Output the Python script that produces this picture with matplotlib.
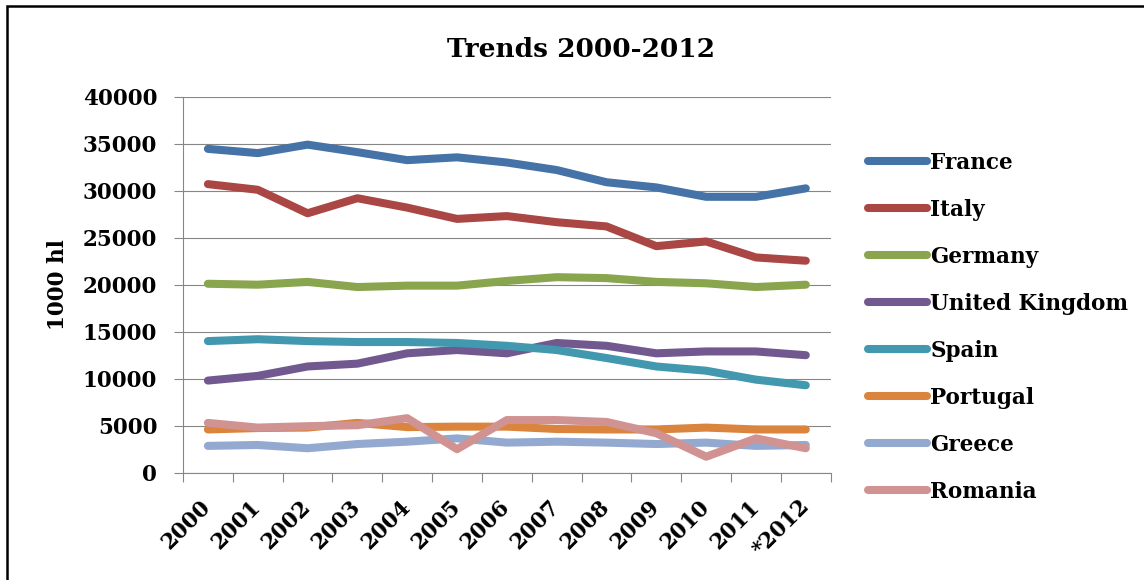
import matplotlib
matplotlib.use("Agg")
import matplotlib.pyplot as plt
from matplotlib.patches import Rectangle
from matplotlib.ticker import FixedLocator, NullFormatter, FixedFormatter

years = ["2000", "2001", "2002", "2003", "2004", "2005", "2006", "2007",
         "2008", "2009", "2010", "2011", "*2012"]

france = [34450, 34000, 34900, 34100, 33250, 33550, 33000, 32200, 30900, 30350, 29350, 29350, 30250]
italy = [30700, 30100, 27600, 29200, 28200, 27000, 27300, 26650, 26200, 24100, 24600, 22900, 22550]
germany = [20100, 20000, 20300, 19750, 19900, 19900, 20400, 20800, 20700, 20300, 20150, 19750, 20000]
uk = [9800, 10300, 11300, 11600, 12700, 13050, 12700, 13800, 13500, 12700, 12900, 12900, 12500]
spain = [14000, 14200, 14000, 13900, 13900, 13800, 13500, 13050, 12200, 11300, 10850, 9900, 9300]
portugal = [4600, 4750, 4800, 5300, 4850, 4900, 4900, 4650, 4600, 4600, 4800, 4600, 4600]
greece = [2850, 2950, 2600, 3050, 3300, 3650, 3200, 3300, 3200, 3050, 3200, 2850, 2950]
romania = [5300, 4800, 4950, 5050, 5800, 2500, 5600, 5600, 5400, 4200, 1700, 3650, 2600]

series_names = ["France", "Italy", "Germany", "United Kingdom", "Spain",
                "Portugal", "Greece", "Romania"]
series_values = [france, italy, germany, uk, spain, portugal, greece, romania]
colors = ["#4572A7", "#AA4643", "#89A54E", "#71588F", "#4198AF",
          "#DB843D", "#93A9CF", "#D19392"]

y_ticks = [0, 5000, 10000, 15000, 20000, 25000, 30000, 35000, 40000]

W, H = 1144, 580
fig = plt.figure(figsize=(W / 100, H / 100), dpi=100)
plt.rcParams['font.family'] = ['DejaVu Serif']

left, right, top, bottom = 183, 830.7, 96.7, 472.7
ax = fig.add_axes([left / W, 1 - bottom / H, (right - left) / W, (bottom - top) / H])

x = list(range(len(years)))
for name, vals, c in zip(series_names, series_values, colors):
    ax.plot(x, vals, color=c, lw=5.8, solid_capstyle='round',
            solid_joinstyle='round', label=name)

grid_c = "#868686"
ax.set_xlim(-0.5, len(years) - 0.5)
ax.set_ylim(0, 40000)
ax.set_yticks(y_ticks)
ax.set_yticklabels([str(v) for v in y_ticks], fontsize=15.5, fontweight='bold')
ax.yaxis.grid(True, color=grid_c, lw=0.8)
ax.set_axisbelow(True)

ax.xaxis.set_major_locator(FixedLocator([i - 0.5 for i in range(len(years) + 1)]))
ax.xaxis.set_major_formatter(NullFormatter())
ax.xaxis.set_minor_locator(FixedLocator(x))
ax.xaxis.set_minor_formatter(FixedFormatter(years))
ax.tick_params(axis='x', which='minor', length=0, pad=22)
ax.tick_params(axis='x', which='major', length=6.5, color=grid_c, width=0.8, direction='out')
ax.tick_params(axis='y', length=6.5, color=grid_c, width=0.8, direction='out', pad=12)
for lab in ax.xaxis.get_minorticklabels():
    lab.set_rotation(45)
    lab.set_rotation_mode('anchor')
    lab.set_ha('right')
    lab.set_va('center')
    lab.set_fontsize(15.5)
    lab.set_fontweight('bold')

for s in ['top', 'right']:
    ax.spines[s].set_visible(False)
for s in ['left', 'bottom']:
    ax.spines[s].set_color(grid_c)
    ax.spines[s].set_linewidth(0.8)

leg = ax.legend(loc='upper left', bbox_to_anchor=(868 / W, 1 - 152 / H),
                bbox_transform=fig.transFigure, frameon=False, borderpad=0,
                borderaxespad=0, handlelength=2.75, handletextpad=0.15,
                labelspacing=1.16, prop={'size': 15.5, 'weight': 'bold'})

fig.text(581 / W, 1 - 57 / H, "Trends 2000-2012", ha='center', va='baseline',
         fontsize=19, fontweight='bold')
fig.text(58 / W, 1 - 285 / H, "1000 hl", ha='center', va='center', rotation=90,
         fontsize=15.5, fontweight='bold')

fig.patches.append(Rectangle((7 / W, -0.1), 2.0, 1 - 6 / H + 0.1,
                             transform=fig.transFigure, fill=False,
                             edgecolor='black', lw=1.8))

fig.savefig("out.png", dpi=100)
